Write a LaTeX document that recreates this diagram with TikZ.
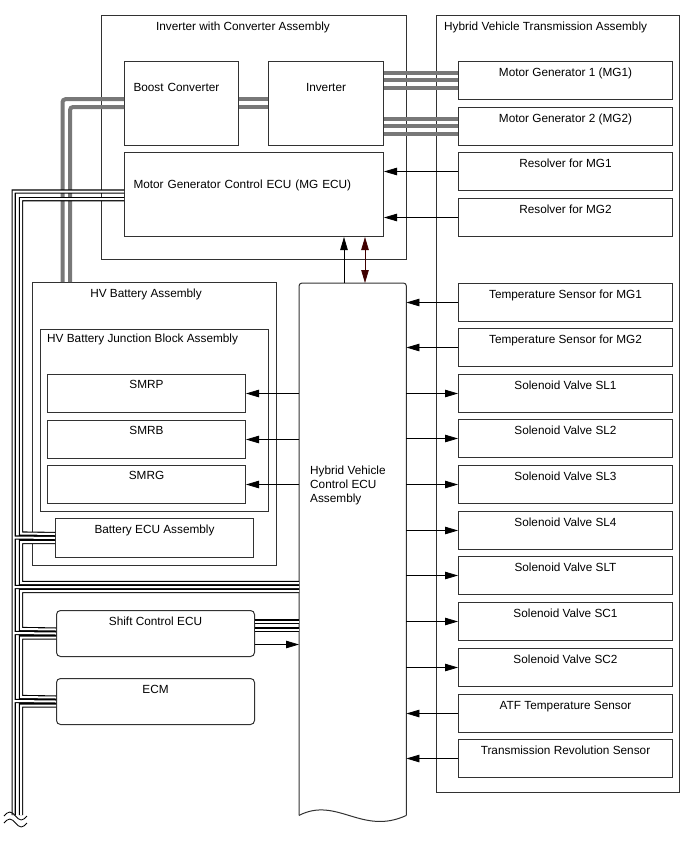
\documentclass[tikz,border=0pt]{standalone}
\usepackage{fontspec}
\setmainfont{Liberation Sans}
\usepackage{xcolor}
\usepackage{tikz}
\usetikzlibrary{arrows.meta, positioning, calc}

\definecolor{frame}{RGB}{50,50,50}
\definecolor{cable}{RGB}{120,120,120}
\definecolor{linkred}{RGB}{64,0,0}

\begin{document}
\begin{tikzpicture}[
    x=1pt, y=-1pt,
    font=\fontsize{11.8}{14}\selectfont,
    part/.style={draw=frame, line width=1pt, inner sep=0pt, anchor=north west},
    rbox/.style={part, minimum width=214pt, minimum height=38pt,
      text height=15.2pt, text depth=22.8pt},
    smrbox/.style={part, minimum width=198pt, minimum height=38pt,
      text height=14.2pt, text depth=23.8pt},
    ecubox/.style={part, rounded corners=4pt, minimum width=198pt,
      minimum height=46pt, text height=15.2pt, text depth=30.8pt},
    ttl/.style={inner sep=0pt},
    sig/.style={draw=black, line width=0.8pt, -{Triangle[length=13pt, width=7.5pt]}},
    link/.style={draw=linkred, line width=0.8pt,
      {Triangle[length=13pt, width=7.5pt]}-{Triangle[length=13pt, width=7.5pt]}},
    power/.style={draw=cable, line width=4pt, rounded corners=3pt},
    canbus/.style={draw=black, double=white, double distance=2pt,
      line width=1.1pt, line join=miter}
]
\useasboundingbox (0,0) rectangle (688,852);

% assemblies
\node[part, minimum width=305pt, minimum height=244pt] (invasm) at (101,15) {};
\node[part, minimum width=243pt, minimum height=777pt] (hvtasm) at (436,15) {};
\node[part, minimum width=244pt, minimum height=283pt] (batasm) at (32,282) {};
\node[part, minimum width=228pt, minimum height=182pt] (jbasm)  at (40,329) {};
\node[ttl, anchor=base]      (invttl) at (243,30.2)  {Inverter with Converter Assembly};
\node[ttl, anchor=base west] (hvtttl) at (444,30.2)  {Hybrid Vehicle Transmission Assembly};
\node[ttl, anchor=base]      (batttl) at (146,297.2) {HV Battery Assembly};
\node[ttl, anchor=base west] (jbttl)  at (47,342.2)  {HV Battery Junction Block Assembly};

% inverter side
\node[part, minimum width=114pt, text width=96pt, inner xsep=9pt, align=left,
  text height=30.2pt, text depth=53.8pt] (boost) at (124,61) {Boost Converter};
\node[part, minimum width=115pt, text height=30.2pt, text depth=53.8pt]
  (inv) at (268,61) {Inverter};
\node[part, minimum width=259pt, text width=241pt, inner xsep=9pt, align=left,
  text height=36.2pt, text depth=47.8pt] (mgecu) at (124,152)
  {Motor Generator Control ECU (MG ECU)};

% transmission side
\node[rbox] (mg1)  at (458,61)  {Motor Generator 1 (MG1)};
\node[rbox] (mg2)  at (458,107) {Motor Generator 2 (MG2)};
\node[rbox] (res1) at (458,152) {Resolver for MG1};
\node[rbox] (res2) at (458,198) {Resolver for MG2};
\node[rbox] (tmp1) at (458,283) {Temperature Sensor for MG1};
\node[rbox] (tmp2) at (458,328) {Temperature Sensor for MG2};
\node[rbox] (sl1)  at (458,374) {Solenoid Valve SL1};
\node[rbox] (sl2)  at (458,419) {Solenoid Valve SL2};
\node[rbox] (sl3)  at (458,465) {Solenoid Valve SL3};
\node[rbox] (sl4)  at (458,511) {Solenoid Valve SL4};
\node[rbox] (slt)  at (458,556) {Solenoid Valve SLT};
\node[rbox] (sc1)  at (458,602) {Solenoid Valve SC1};
\node[rbox] (sc2)  at (458,648) {Solenoid Valve SC2};
\node[rbox] (atf)  at (458,694) {ATF Temperature Sensor};
\node[rbox] (trev) at (458,739) {Transmission Revolution Sensor};

% battery side
\node[smrbox] (smrp) at (47,374) {SMRP};
\node[smrbox] (smrb) at (47,420) {SMRB};
\node[smrbox] (smrg) at (47,465) {SMRG};
\node[part, minimum width=198pt, minimum height=39pt, text height=15.2pt,
  text depth=23.8pt] (batecu) at (55,518) {Battery ECU Assembly};
\node[ecubox] (shiftecu) at (56,610) {Shift Control ECU};
\node[ecubox] (ecm)      at (56,678) {ECM};

% hybrid vehicle control ECU
\node[inner sep=0pt, minimum width=107pt, minimum height=532pt, anchor=north west]
  (hvecu) at (299,283) {};
\draw[draw=frame, line width=1pt, rounded corners=3pt]
  (hvecu.south west) -- (hvecu.north west) -- (hvecu.north east) -- (hvecu.south east);
\draw[draw=frame, line width=1pt]
  (hvecu.south east) .. controls (362,836) and (337,796) .. (hvecu.south west);
\node[ttl, anchor=west, align=left] (hvtxt) at (310,485)
  {Hybrid Vehicle\\Control ECU\\Assembly};

% high voltage lines
\draw[power] ([yshift=4.3pt]boost.west) -| ([xshift=30.5pt]batasm.north west);
\draw[power] ([yshift=-3.5pt]boost.west) -| ([xshift=38pt]batasm.north west);
\draw[power] ([yshift=4.3pt]boost.east) -- ([yshift=4.3pt]inv.west);
\draw[power] ([yshift=-3.5pt]boost.east) -- ([yshift=-3.5pt]inv.west);
\draw[power] ([yshift=8pt]inv.east |- mg1.west) -- ([yshift=8pt]mg1.west);
\draw[power] ([yshift=0.7pt]inv.east |- mg1.west) -- ([yshift=0.7pt]mg1.west);
\draw[power] ([yshift=-7.3pt]inv.east |- mg1.west) -- ([yshift=-7.3pt]mg1.west);
\draw[power] ([yshift=8pt]inv.east |- mg2.west) -- ([yshift=8pt]mg2.west);
\draw[power] ([yshift=0.7pt]inv.east |- mg2.west) -- ([yshift=0.7pt]mg2.west);
\draw[power] ([yshift=-7.3pt]inv.east |- mg2.west) -- ([yshift=-7.3pt]mg2.west);

% CAN lines
\draw[canbus]
  ([yshift=3pt]mgecu.west) -| (13.7,815)
  (13.7,537.5) -- (batecu.west)
  (13.7,587) -- (13.7,587 -| hvecu.west)
  (13.7,633) -- (shiftecu.west)
  (13.7,701) -- (ecm.west)
  ([yshift=-4.7pt]mgecu.west) -| (21,533.5) -- ([yshift=4pt]batecu.west)
  ([yshift=-4pt]batecu.west) -| (21,583) -- (21,583 -| hvecu.west)
  (21,591 -| hvecu.west) -| (21,629) -- ([yshift=4pt]shiftecu.west)
  ([yshift=-4pt]shiftecu.west) -| (21,697) -- ([yshift=4pt]ecm.west)
  ([yshift=-4pt]ecm.west) -| (21,815);
\draw[canbus] ([yshift=12pt]shiftecu.east) -- ([yshift=12pt]shiftecu.east -| hvecu.west);
\draw[canbus] ([yshift=4pt]shiftecu.east) -- ([yshift=4pt]shiftecu.east -| hvecu.west);
\draw[line width=0.8pt] (4,816) sin (9.75,812) cos (15.5,816) sin (21.25,820) cos (27,816);
\draw[line width=0.8pt] (4,823) sin (9.75,819) cos (15.5,823) sin (21.25,827) cos (27,823);

% signals
\draw[sig] (res1.west) -- (res1.west -| mgecu.east);
\draw[sig] (res2.west) -- (res2.west -| mgecu.east);
\draw[sig] ([xshift=45pt]hvecu.north west) -- ([xshift=220pt]mgecu.south west);
\draw[link] ([xshift=66pt]hvecu.north west) -- ([xshift=241pt]mgecu.south west);
\draw[sig] (tmp1.west) -- (tmp1.west -| hvecu.east);
\draw[sig] (tmp2.west) -- (tmp2.west -| hvecu.east);
\draw[sig] (sl1.west -| hvecu.east) -- (sl1.west);
\draw[sig] (sl2.west -| hvecu.east) -- (sl2.west);
\draw[sig] (sl3.west -| hvecu.east) -- (sl3.west);
\draw[sig] (sl4.west -| hvecu.east) -- (sl4.west);
\draw[sig] (slt.west -| hvecu.east) -- (slt.west);
\draw[sig] (sc1.west -| hvecu.east) -- (sc1.west);
\draw[sig] (sc2.west -| hvecu.east) -- (sc2.west);
\draw[sig] (atf.west) -- (atf.west -| hvecu.east);
\draw[sig] (trev.west) -- (trev.west -| hvecu.east);
\draw[sig] (smrp.east -| hvecu.west) -- (smrp.east);
\draw[sig] (smrb.east -| hvecu.west) -- (smrb.east);
\draw[sig] (smrg.east -| hvecu.west) -- (smrg.east);
\draw[sig] ([yshift=-11pt]shiftecu.east) -- ([yshift=-11pt]shiftecu.east -| hvecu.west);
\end{tikzpicture}
\end{document}
